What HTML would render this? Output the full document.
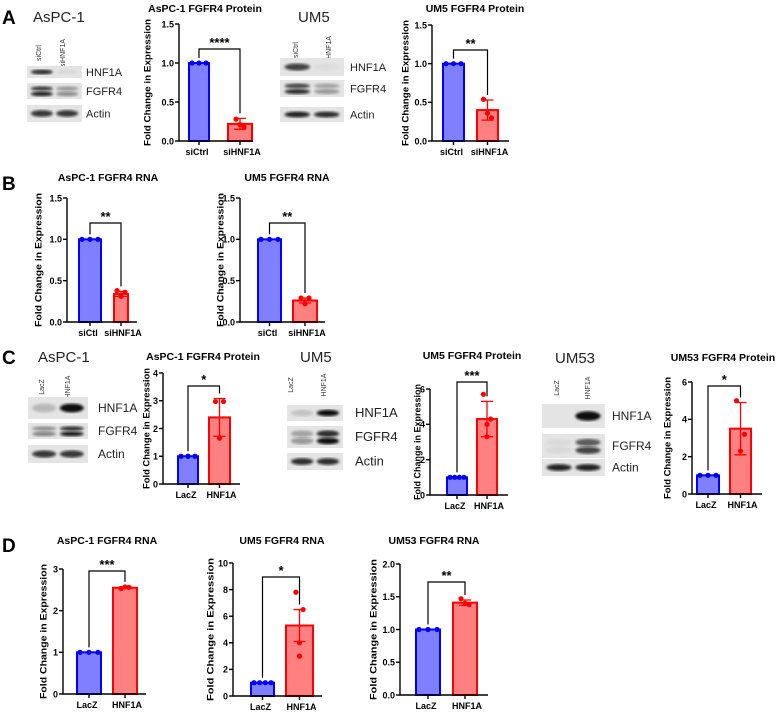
<!DOCTYPE html>
<html><head><meta charset="utf-8"><style>
html,body{margin:0;padding:0;background:#fff;}
svg{display:block;font-family:"Liberation Sans",Arial,sans-serif;}
.bl{font-family:"Liberation Sans",Arial,sans-serif;}
</style></head><body>
<svg id="fig" width="778" height="713" viewBox="0 0 778 713">
<defs>
<filter id="blur1"><feGaussianBlur stdDeviation="1.2"/></filter>
</defs>
<g id="letters" font-weight="bold" font-size="19">
<text x="2" y="24">A</text>
<text x="2" y="190">B</text>
<text x="2" y="364">C</text>
<text x="2" y="552">D</text>
</g>
<g id="blots"></g>
<g id="charts"></g>
</svg>
<script>
// ---- chart data ----
const titles = ["AsPC-1 FGFR4 Protein","UM5 FGFR4 Protein","AsPC-1 FGFR4 RNA","UM5 FGFR4 RNA","AsPC-1 FGFR4 Protein","UM5 FGFR4 Protein","UM53 FGFR4 Protein","AsPC-1 FGFR4 RNA","UM5 FGFR4 RNA","UM53 FGFR4 RNA"];
const categories = [["siCtrl","siHNF1A"],["siCtrl","siHNF1A"],["siCtl","siHNF1A"],["siCtl","siHNF1A"],["LacZ","HNF1A"],["LacZ","HNF1A"],["LacZ","HNF1A"],["LacZ","HNF1A"],["LacZ","HNF1A"],["LacZ","HNF1A"]];
const controlMeans = [1,1,1,1,1,1,1,1,1,1];
const treatedMeans = [0.22,0.40,0.34,0.26,2.4,4.3,3.5,2.55,5.3,1.41];
const treatedErr = [0.07,0.13,0.03,0.03,0.68,1.0,1.4,0.02,1.2,0.04];
const controlPoints = [[1,1,1],[1,1,1],[1,1,1],[1,1,1],[1,1,1],[1,1,1,1],[1,1,1],[1,1,1],[1,1,1,1],[1,1,1]];
const treatedPoints = [[0.28,0.18,0.21],[0.54,0.30,0.36],[0.38,0.36,0.31],[0.29,0.29,0.22],[2.97,2.97,1.65],[5.7,4.3,4.0,3.3],[5.0,3.2,2.3],[2.53,2.56,2.57],[7.8,6.5,4.0,3.0],[1.47,1.38,1.40]];
const yMaxes = [1.5,1.5,1.5,1.5,4,6,6,3,10,2];
const tickValues = [[0,0.5,1,1.5],[0,0.5,1,1.5],[0,0.5,1,1.5],[0,0.5,1,1.5],[0,1,2,3,4],[0,2,4,6],[0,2,4,6],[0,1,2,3],[0,2,4,6,8,10],[0,0.5,1,1.5,2]];
const tickLabels = [["0.0","0.5","1.0","1.5"],["0.0","0.5","1.0","1.5"],["0.0","0.5","1.0","1.5"],["0.0","0.5","1.0","1.5"],["0","1","2","3","4"],["0","2","4","6"],["0","2","4","6"],["0","1","2","3"],["0","2","4","6","8","10"],["0.0","0.5","1.0","1.5","2.0"]];
const stars = ["****","**","**","**","*","***","*","***","*","**"];

// ---- layout (pixels) ----
const L = [
 {ax:179,top:24,bot:141,b1:[189,209],b2:[228,252],xe:253,ty:12,tx:205,yl:147,br:49},
 {ax:432,top:25,bot:141,b1:[443,464],b2:[477,498],xe:509,ty:12,tx:475,yl:405,br:50},
 {ax:67,top:198,bot:322,b1:[79,101],b2:[114,128],xe:137,ty:181,tx:108,yl:38,br:223},
 {ax:240,top:198,bot:322,b1:[258,281],b2:[293,317],xe:325,ty:181,tx:287,yl:220,br:223},
 {ax:163,top:373,bot:484,b1:[178,198],b2:[209,230],xe:240,ty:360,tx:203,yl:146,br:386},
 {ax:430,top:389,bot:495,b1:[447,467],b2:[477,497],xe:508,ty:359,tx:472,yl:417,br:382},
 {ax:692,top:382,bot:494,b1:[697,719],b2:[730,751],xe:762,ty:361,tx:723,yl:667,br:386},
 {ax:63,top:569,bot:694,b1:[77,101],b2:[113,137],xe:146,ty:544,tx:107,yl:43,br:571},
 {ax:233,top:563,bot:696,b1:[251,274],b2:[286,313],xe:322,ty:544,tx:282,yl:210,br:577},
 {ax:400,top:564,bot:695,b1:[416,440],b2:[453,477],xe:488,ty:544,tx:434,yl:373,br:582}
];
const NS="http://www.w3.org/2000/svg";
function mk(tag,attrs,parent){const e=document.createElementNS(NS,tag);for(const k in attrs)e.setAttribute(k,attrs[k]);if(parent)parent.appendChild(e);return e;}
const charts=document.getElementById('charts');
for(let i=0;i<titles.length;i++){
 const c=L[i];
 const y=v=>c.bot-(v/yMaxes[i])*(c.bot-c.top);
 const g=mk('g',{},charts);
 
 
 const t=mk('text',{x:c.tx,y:c.ty,'text-anchor':'middle','font-size':10.5,'font-weight':'bold'},g);t.textContent=titles[i];
 
 
 const plotH=c.bot-c.top;
 const yl=mk('text',{x:0,y:0,transform:`translate(${c.yl+3.5},${(c.top+c.bot)/2}) rotate(-90)`,'text-anchor':'middle','font-size':9.5,'font-weight':'bold',textLength:plotH+10,lengthAdjust:'spacingAndGlyphs'},g);yl.textContent='Fold Change in Expression';
 
 
 const bars=[[c.b1,controlMeans[i],'#8080ff','#0000ff'],[c.b2,treatedMeans[i],'#ff8080','#ff0000']];
 bars.forEach((b,j)=>{
  const r=mk('rect',{x:b[0][0],y:y(b[1]),width:b[0][1]-b[0][0],height:c.bot-y(b[1]),fill:b[2],stroke:b[3],'stroke-width':2},g);
  
  
 });
 const cx2=(c.b2[0]+c.b2[1])/2, cx1=(c.b1[0]+c.b1[1])/2;
 const m=treatedMeans[i], e=treatedErr[i];
 const eb=mk('path',{d:`M${cx2},${y(m-e)}V${y(m+e)}M${cx2-6},${y(m+e)}H${cx2+6}M${cx2-6},${y(m-e)}H${cx2+6}`,stroke:'#ff0000','stroke-width':1.3,fill:'none'},g);
 
 
 const w1=c.b1[1]-c.b1[0];
 controlPoints[i].forEach((v,k,a)=>{
  const px=a.length>1? c.b1[0]+3+k*(w1-6)/(a.length-1):cx1;
  const p=mk('circle',{cx:px,cy:y(v),r:2.6,fill:'#0000ff'},g);
  
  
 });
 treatedPoints[i].forEach((v,k,a)=>{
  const off=[-5,5,0,0][k]*(a.length===4?0.9:1);
  const p=mk('circle',{cx:cx2+off*0.8,cy:y(v),r:2.6,fill:'#ff0000'},g);
  
  
 });
 const ax=mk('path',{d:`M${c.ax},${c.top}V${c.bot}H${c.xe}M${cx1},${c.bot}v4M${cx2},${c.bot}v4`,stroke:'#000','stroke-width':1.4,fill:'none'},g);
 
 
 tickValues[i].forEach((v,k)=>{
  mk('line',{x1:c.ax-4,x2:c.ax,y1:y(v),y2:y(v),stroke:'#000','stroke-width':1.4},g);
  const tl=mk('text',{x:c.ax-5,y:y(v)+3.3,'text-anchor':'end','font-size':9,'font-weight':'bold'},g);tl.textContent=tickLabels[i][k];
  
  
 });
 [cx1,cx2].forEach((x,j)=>{
  const cl=mk('text',{x:x+(j===0?-2:2),y:c.bot+14,'text-anchor':'middle','font-size':9,'font-weight':'bold'},g);cl.textContent=categories[i][j];
  
  
 });
 const br=mk('path',{d:`M${cx1},${y(controlMeans[i])-5}V${c.br}H${cx2}V${y(m+e)-5}`,stroke:'#000','stroke-width':1.2,fill:'none'},g);
 
 
 const st=mk('text',{x:(cx1+cx2)/2,y:c.br-2,'text-anchor':'middle','font-size':13,'font-weight':'bold'},g);st.textContent=stars[i];
 
 
}
// ---- western blots ----
const blotsG=document.getElementById('blots');
const blots=[
 {name:'AsPC-1',nx:33,ny:22,lanes:['siCtrl','siHNF1A'],lx:[41,65],ly:53,x0:27,x1:82,lab:86,fs:11,
  rows:[['HNF1A',66,78,[0.85,0.05]],['FGFR4',83,99,[0.9,0.4]],['Actin',105,122,[0.8,0.8]]]},
 {name:'UM5',nx:298,ny:22,lanes:['siCtrl','siHNF1A'],lx:[298,331],ly:50,x0:280,x1:344,lab:350,fs:11,
  rows:[['HNF1A',58,76,[0.75,0.03]],['FGFR4',80,97,[0.85,0.35]],['Actin',107,122,[0.9,0.85]]]},
 {name:'AsPC-1',nx:38,ny:362,lanes:['LacZ','HNF1A'],lx:[44,70],ly:387,x0:28,x1:88,lab:98,fs:12,
  rows:[['HNF1A',397,419,[0.2,1]],['FGFR4',423,439,[0.45,0.95]],['Actin',445,463,[0.8,0.8]]]},
 {name:'UM5',nx:300,ny:362,lanes:['LacZ','HNF1A'],lx:[293,326],ly:385,x0:287,x1:343,lab:355,fs:13,
  rows:[['HNF1A',405,421,[0.15,1]],['FGFR4',426,448,[0.35,1]],['Actin',453,470,[0.85,0.85]]]},
 {name:'UM53',nx:555,ny:363,lanes:['LacZ','HNF1A'],lx:[559,590],ly:388,x0:542,x1:605,lab:612,fs:12,
  rows:[['HNF1A',404,428,[0,1]],['FGFR4',434,458,[0.05,0.75]],['Actin',459,476,[0.9,0.9]]]}
];
blots.forEach((b,bi)=>{
 const g=mk('g',{},blotsG);
 
 
 const n=mk('text',{x:b.nx,y:b.ny,'font-size':15,fill:'#222',class:'bl'},g);n.textContent=b.name;
 
 
 b.lanes.forEach((l,k)=>{
  const t=mk('text',{x:0,y:0,transform:`translate(${b.lx[k]},${b.ly}) rotate(-90)`,'text-anchor':'middle','font-size':7,fill:'#333',class:'bl'},g);t.textContent=l;
  
  
 });
 const w=b.x1-b.x0;
 b.rows.forEach(r=>{
  mk('rect',{x:b.x0,y:r[1],width:w,height:r[2]-r[1],fill:'#e4e4e4'},g);
  const h=r[2]-r[1];
  r[3].forEach((int,k)=>{
   if(int<=0.02)return;
   const cx=b.x0+w*(k===0?0.27:0.73);
   const op=int;
   if(r[0]==='FGFR4'){
    mk('ellipse',{cx:cx,cy:r[1]+h*0.35,rx:w*0.2,ry:h*0.15,fill:'#111',opacity:op*0.85,filter:'url(#blur1)'},g);
    mk('ellipse',{cx:cx,cy:r[1]+h*0.68,rx:w*0.2,ry:h*0.15,fill:'#111',opacity:op,filter:'url(#blur1)'},g);
   } else {
    mk('ellipse',{cx:cx,cy:r[1]+h*0.5,rx:w*0.2,ry:Math.max(2,h*0.2),fill:'#111',opacity:op,filter:'url(#blur1)'},g);
   }
  });
  const t=mk('text',{x:b.lab,y:(r[1]+r[2])/2+4,'font-size':b.fs,fill:'#222',class:'bl'},g);t.textContent=r[0];
  
  
 });
});
</script>
</body></html>
